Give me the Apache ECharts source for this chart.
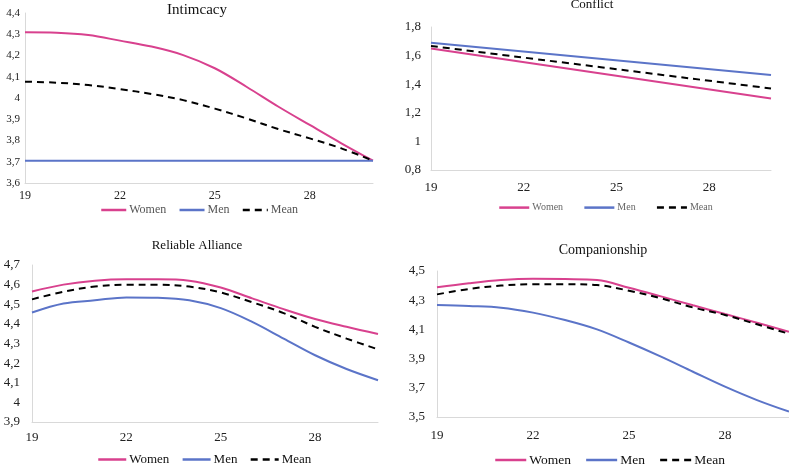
<!DOCTYPE html>
<html><head><meta charset="utf-8">
<script src="https://cdn.jsdelivr.net/npm/echarts@6/dist/echarts.min.js"></script>
<style>html,body{margin:0;padding:0;background:#fff}#c{width:789px;height:464px}</style>
</head><body><div id="c"></div>
<script>
const ages = ['19','20','21','22','23','24','25','26','27','28','29','30'];
const seriesNames = ['Women','Men','Mean'];
const panelTitles = ['Intimcacy','Conflict','Reliable Alliance','Companionship'];

const intimacyWomen = [4.309,4.307,4.296,4.27,4.242,4.202,4.14,4.053,3.96,3.873,3.787,3.705];
const intimacyMen   = [3.705,3.705,3.705,3.705,3.705,3.705,3.705,3.705,3.705,3.705,3.705,3.705];
const intimacyMean  = [4.077,4.072,4.061,4.042,4.019,3.99,3.95,3.904,3.854,3.81,3.763,3.705];

const conflictWomen = [1.65,null,null,null,null,null,null,null,null,null,null,1.30];
const conflictMen   = [1.69,null,null,null,null,null,null,null,null,null,null,1.465];
const conflictMean  = [1.667,null,null,null,null,null,null,null,null,null,null,1.37];

const allianceWomen = [4.565,4.60,4.62,4.627,4.627,4.62,4.585,4.53,4.475,4.425,4.385,4.348];
const allianceMen   = [4.458,4.504,4.52,4.535,4.533,4.52,4.48,4.41,4.325,4.24,4.17,4.113];
const allianceMean  = [4.525,4.564,4.59,4.60,4.60,4.59,4.56,4.51,4.455,4.385,4.325,4.27];

const compWomen = [4.388,4.416,4.438,4.447,4.445,4.438,4.385,4.326,4.265,4.205,4.146,4.084];
const compMen   = [4.267,4.26,4.249,4.215,4.164,4.10,4.01,3.913,3.81,3.708,3.616,3.537];
const compMean  = [4.34,4.377,4.40,4.41,4.41,4.404,4.365,4.313,4.25,4.199,4.135,4.07];

const yMins = [3.6, 0.8, 3.9, 3.5];
const yMaxs = [4.4, 1.8, 4.7, 4.5];
const yIntervals = [0.1, 0.2, 0.1, 0.1];

const PINK = '#d8418e', BLUE = '#5b74c8', BLACK = '#000';
const FONT = '"Liberation Serif","Times New Roman",serif';

const grids = [
  {left:25, top:13, width:348, height:170},
  {left:431, top:27, width:340, height:143},
  {left:32, top:265, width:346, height:157},
  {left:437, top:271, width:352, height:146}
];
const yLabelSize = [11, 13, 13, 13];
const yLabelMargin = [5, 10, 12, 12];
const xLabelSize = [12, 13, 13, 13];
const xLabelMargin = [7, 11, 9, 12];

function fmt(v){ return String(Number(v.toFixed(2))).replace('.', ','); }

const xAxes = grids.map((g,i)=>({
  type:'category', gridIndex:i, data:ages, boundaryGap:false,
  axisLine:{lineStyle:{color:'#d9d9d9', width:1}},
  axisTick:{show:false},
  axisLabel:{interval:2, color:'#222', fontFamily:FONT, fontSize:xLabelSize[i], margin:xLabelMargin[i]},
  splitLine:{show:false}
}));
const yAxes = grids.map((g,i)=>({
  type:'value', gridIndex:i, min:yMins[i], max:yMaxs[i], interval:yIntervals[i],
  axisLine:{show:true, lineStyle:{color:'#d9d9d9', width:1}},
  axisTick:{show:false},
  splitLine:{show:false},
  axisLabel:{color:'#222', fontFamily:FONT, fontSize:yLabelSize[i], margin:yLabelMargin[i],
    formatter: i===3 ? (v=>(Math.round(v*10)%2===1 ? fmt(v) : '')) : fmt}
}));

const panelData = [
  [intimacyWomen, intimacyMen, intimacyMean],
  [conflictWomen, conflictMen, conflictMean],
  [allianceWomen, allianceMen, allianceMean],
  [compWomen, compMen, compMean]
];
const colors = [PINK, BLUE, BLACK];
const series = [];
panelData.forEach((arrs,i)=>{
  arrs.forEach((d,k)=>{
    series.push({
      name: seriesNames[k], type:'line', xAxisIndex:i, yAxisIndex:i, data:d,
      symbol:'none', smooth:0.35, connectNulls:true,
      itemStyle:{color:colors[k]},
      lineStyle:{color:colors[k], width:2, type: k===2 ? [7,5] : 'solid'},
      z: k===2 ? 3 : 2
    });
  });
});

const legendDefs = [
  {left:100, top:204, itemWidth:25, gap:12, size:12, color:'#555'},
  {left:498, top:202, itemWidth:30, gap:20, size:10, color:'#666'},
  {left:97, top:453, itemWidth:28, gap:12, size:13, color:'#111'},
  {left:494, top:453, itemWidth:31, gap:14, size:13.5, color:'#111'}
];
const legends = legendDefs.map(l=>({
  data: seriesNames, left:l.left, top:l.top, itemWidth:l.itemWidth, itemHeight:14,
  itemGap:l.gap, padding:0, selectedMode:false,
  itemStyle:{opacity:0},
  lineStyle:{width:2.5},
  textStyle:{fontFamily:FONT, fontSize:l.size, color:l.color, padding:[0,0,0,-2]}
}));

const titlePos = [[197,10,15],[592,5,13],[197,246,13],[603,250,14]];
const graphics = panelTitles.map((t,i)=>({
  type:'text', x:titlePos[i][0], y:titlePos[i][1],
  style:{text:t, align:'center', verticalAlign:'middle', fill:'#111',
    font: titlePos[i][2] + 'px ' + FONT}
}));

const chart = echarts.init(document.getElementById('c'), null, {renderer:'canvas'});
chart.setOption({
  animation:false,
  grid: grids,
  xAxis: xAxes,
  yAxis: yAxes,
  legend: legends,
  graphic: graphics,
  series: series
});
</script></body></html>
